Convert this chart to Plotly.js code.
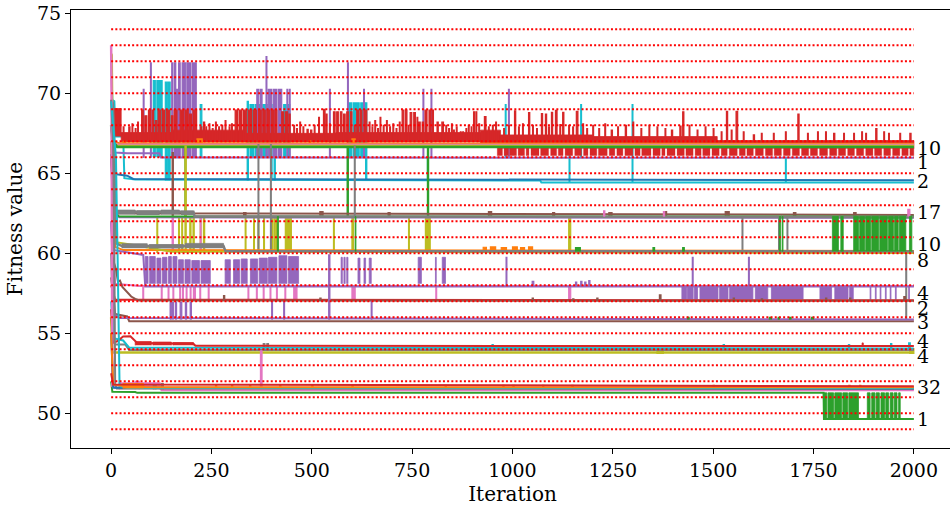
<!DOCTYPE html>
<html>
<head>
<meta charset="utf-8">
<script src="https://cdn.plot.ly/plotly-3.0.1.min.js"></script>
<style>
html,body{margin:0;padding:0;overflow:hidden;background:#fff;width:950px;height:511px;}
#chart{width:960px;height:511px;}
</style>
</head>
<body>
<div id="chart"></div>
<script>
// ---------------- DATA ----------------
const xTicks = [0, 250, 500, 750, 1000, 1250, 1500, 1750, 2000];
const yTicks = [50, 55, 60, 65, 70, 75];
const refLevels = [49,50,51,52,53,54,55,56,57,58,59,60,61,62,63,64,65,66,67,68,69,70,71,72,73,74];

const countLabels = ['10','1','2','17','10','8','4','2','3','4','4','32','1'];
const countLabelY = [66.56, 65.73, 64.52, 62.6, 60.58, 59.58, 57.5, 56.56, 55.72, 54.54, 53.58, 51.62, 49.62];

// runs: [iteration, fitness] points
const cyanHighPath = [[0,72.0],[3,69.6],[8,69.5],[11,67.3],[30,67.3],[33,64.7],[60,64.62],[1069,64.55],[1072,64.42],[2000,64.42]];
const cyanHighRects = [[105,110,66.0,70.8],[114,127,66.0,70.8],[135,140,64.55,70.7],[143,147,64.55,70.7],[222,226,66.0,69.3],
  [339,342,64.55,69.5],[346,356,66.0,69.3],[360,372,66.0,69.3],[378,389,66.0,69.3],[398,401,64.55,69.3],[406,409,64.55,69.3],
  [430,436,66.0,69.3],[440,445,66.0,69.3],[591,600,66.0,69.4],[604,618,66.0,69.4],[622,632,66.0,69.4],[634,637,64.55,69.4],
  [788,790,64.55,66.0],[982,984,66.0,69.3],[1141,1143,64.42,66.3],[1170,1172,66.0,69.3],[1298,1300,64.42,69.3],[1680,1682,64.42,66.0]];

const purple66Path = [[0,67.2],[5,67.1],[9,66.3],[40,66.25],[120,66.25],[124,65.99],[2000,65.97]];
const purple66Base = 65.97;
const purple66Spikes = [[80,82,70.25],[98,100,71.9],[151,154,71.9],[158,161,71.9],[163,165,70.25],[168,172,71.9],[177,186,71.9],
  [189,199,71.9],[203,212,71.9],[363,368,70.25],[372,376,70.25],[386,388,72.3],[391,400,70.25],[404,413,70.25],[417,425,70.25],
  [438,440,70.25],[444,446,70.25],[544,546,70.25],[589,591,71.9],[629,631,70.25],[777,779,70.25],[797,799,70.25],[990,992,70.25]];

const blue64Path = [[0,66.2],[4,65.1],[10,64.95],[40,64.85],[55,64.65],[2000,64.56]];

const redBand = [[2,25,67.3,69.05],[25,150,66.95,67.55],[150,330,66.95,67.7],[330,560,66.95,67.5],[560,920,66.95,67.55],
  [920,970,66.8,67.7],[970,1200,66.55,67.4],[1200,1510,66.55,67.3],[1510,2000,66.55,67.05]];
const redCombLo = 66.1, redCombHi = 66.6;
const redComb = [[962,975],[979,990],[993,1010],[1014,1030],[1034,1041],[1046,1066],[1070,1090],[1095,1110],[1114,1126],
  [1131,1150],[1155,1172],[1177,1188],[1193,1210],[1214,1236],[1241,1255],[1260,1275],[1280,1300],[1305,1318],[1322,1345],
  [1350,1368],[1372,1380],[1385,1405],[1410,1428],[1432,1450],[1455,1470],[1474,1492],[1497,1515],[1520,1535],[1540,1560],
  [1565,1580],[1584,1600],[1605,1625],[1630,1648],[1652,1670],[1675,1692],[1697,1715],[1720,1738],[1742,1760],[1765,1785],
  [1790,1808],[1812,1830],[1835,1852],[1857,1875],[1880,1898],[1902,1920],[1925,1942],[1947,1965],[1970,1986],[1990,2000]];
const redSpikeBase = 67.0;
const redSpikes = [[30,32,67.9],[44,47,67.9],[52,54,68.1],[60,62,67.8],[66,68,68.2],[76,80,68.95],[84,89,68.6],[93,98,68.95],
  [102,106,68.95],[110,114,68.3],[117,124,68.95],[128,133,68.95],[137,146,68.95],[150,154,68.6],[157,164,68.95],
  [172,180,68.95],[184,192,68.95],[195,200,68.7],[204,213,68.95],[222,226,67.9],[230,233,68.2],[236,238,67.9],[244,246,68.1],
  [252,254,67.8],[260,262,68.2],[268,270,67.9],[276,278,68.0],[284,286,68.3],[294,296,67.9],[300,302,68.1],
  [309,316,68.95],[320,326,68.95],[330,338,68.95],[342,350,68.95],[354,362,68.95],
  [367,374,68.95],[378,384,68.95],[388,395,68.95],[399,405,68.95],[408,413,68.95],
  [425,430,68.85],[434,440,68.85],[443,446,68.7],[455,457,68.0],[462,464,67.8],[470,472,68.2],[478,480,67.9],
  [488,491,67.75],[497,500,67.7],[506,508,68.0],
  [517,519,68.5],[529,533,69.0],[535,538,68.7],[544,546,68.1],
  [554,558,68.85],[562,566,68.85],[571,575,68.85],[579,583,68.7],[587,591,68.85],[596,600,68.85],[606,608,68.0],
  [612,616,68.95],[620,625,68.95],[630,637,68.95],[643,645,68.2],[650,652,67.9],[657,659,68.3],[664,666,67.8],[670,672,68.5],
  [678,680,68.0],[686,688,68.3],[694,696,67.9],[702,704,68.1],[710,712,67.8],[718,720,68.2],
  [725,729,68.95],[733,737,68.95],[740,742,68.0],[745,749,68.8],[754,758,68.8],[762,764,68.5],[766,770,68.2],[775,778,68.2],
  [782,787,68.95],[792,797,68.95],[800,803,68.95],[812,815,68.2],[824,828,68.2],[834,836,68.0],[841,843,67.8],[848,850,68.1],
  [853,855,67.7],[860,862,67.9],[870,872,67.6],[876,878,67.6],[884,886,67.8],[890,892,68.0],[897,899,67.9],
  [903,906,68.85],[909,911,68.85],[916,918,68.1],[930,934,68.55],[940,942,67.9],[950,952,68.0],[958,960,68.2],[978,980,67.8],
  [990,992,68.0],[1005,1008,68.9],[1015,1017,67.9],[1025,1027,68.1],[1040,1043,68.8],[1050,1052,68.0],[1060,1062,67.8],
  [1072,1075,68.73],[1082,1085,68.7],[1090,1092,67.9],[1097,1100,68.81],[1107,1111,68.94],[1118,1120,68.04],
  [1125,1128,68.81],[1140,1142,68.0],[1150,1152,67.9],[1159,1163,68.88],[1175,1177,68.1],[1185,1187,67.8],[1200,1202,68.0],
  [1215,1217,67.8],[1230,1232,68.1],[1246,1249,67.7],[1262,1264,67.9],[1281,1284,68.0],[1300,1302,68.2],[1320,1322,67.8],
  [1340,1342,68.0],[1360,1362,67.9],[1380,1382,67.8],[1396,1399,67.7],[1417,1420,67.95],[1424,1427,68.85],[1440,1442,68.0],
  [1460,1462,67.7],[1480,1482,67.9],[1500,1502,67.8],[1520,1522,67.6],[1533,1536,68.88],[1545,1547,67.7],[1557,1561,68.88],
  [1575,1577,67.6],[1600,1603,67.4],[1620,1622,67.5],[1650,1652,67.5],[1680,1682,67.6],[1711,1714,68.7],[1735,1737,67.5],
  [1760,1762,67.6],[1780,1782,67.6],[1800,1803,67.5],[1825,1827,67.5],[1850,1852,67.5],[1870,1872,67.6],[1880,1882,67.5],
  [1905,1908,67.8],[1925,1927,67.6],[1937,1939,67.5],[1965,1967,67.5],[1990,1993,67.5]];

const orange66Path = [[0,68.0],[6,67.0],[20,66.88],[2000,66.85]];
const orange66Bits = [[30,36,66.8,67.0],[214,227,66.8,67.15],[494,497,66.8,67.05],[600,608,66.8,67.15]];
const pink66Path = [[0,67.8],[8,66.8],[2000,66.78]];
const olive66Path = [[0,72.5],[2,72.4],[4,67.0],[12,66.72],[2000,66.72]];
const green66Path = [[0,68.0],[3,67.1],[15,66.65],[2000,66.65]];
const green66Spikes = [[184,186,62.3,66.65],[588,591,62.3,66.65],[788,791,62.3,66.65]];

const brown62Path = [[0,67.0],[6,63.0],[10,62.5],[2000,62.4]];
const brown62Bits = [[152,155,62.35,66.3],[330,336,62.35,62.55],[520,528,62.35,62.6],[690,695,62.35,62.55],[940,948,62.35,62.6],
  [1100,1105,62.35,62.55],[1240,1248,62.35,62.55],[1380,1384,62.35,62.6],[1530,1540,62.35,62.6],[1700,1706,62.35,62.55],[1850,1856,62.35,62.55]];
const purple62Path = [[0,66.0],[10,62.6],[20,62.25],[2000,62.22]];
const green62Path = [[0,66.0],[10,62.5],[20,62.3],[2000,62.3]];
const green62Blocks = [[414,417],[608,610],[1665,1668],[1672,1674],[1797,1812],[1818,1824],[1850,1862],[1865,1877],[1880,1892],
  [1895,1912],[1915,1934],[1937,1949],[1952,1961],[1964,1980],[1989,1995]];
const green60Bits = [[1157,1169,60.12,60.35],[1350,1354,60.12,60.35],[1424,1428,60.12,60.35]];
const gray62Path = [[0,69.6],[4,69.4],[8,66.8],[11,62.6],[205,62.6],[208,62.3],[2000,62.27]];
const gray62Noise = [[11,60,62.42,62.7],[64,120,62.4,62.66],[124,170,62.42,62.7],[174,205,62.4,62.64]];
const graySpikes = [[366,368,60.12,66.8],[397,399,60.12,66.8],[606,608,62.27,66.7],[1572,1574,60.12,62.27],
  [1663,1665,60.12,62.27],[1684,1686,60.12,62.27],[1980,1982,55.85,60.12]];
const pink62Bits = [[1227,1230,62.3,62.65],[1376,1379,62.3,62.6],[1985,1990,62.3,62.75]];

const gray60Path = [[0,68.0],[6,66.8],[14,60.6],[27,60.45],[280,60.45],[285,60.13],[2000,60.12]];
const gray60Noise = [[27,90,60.32,60.6],[95,180,60.3,60.55],[185,280,60.32,60.62]];
const olive60Path = [[0,67.0],[12,60.7],[60,60.5],[150,60.1],[2000,60.02]];
const olive60Base = 60.02;
const olive60Spikes = [[114,116,62.3],[168,170,62.3],[176,178,62.3],[184,187,66.7],[196,199,62.3],[204,207,62.3],[222,224,62.3],
  [230,233,62.3],[334,336,62.3],[355,357,62.3],[366,368,62.3],[380,382,62.3],[400,403,62.3],[406,409,62.3],[412,414,62.3],
  [434,449,62.3],[554,556,62.3],[600,604,62.3],[741,743,62.3],[783,795,62.3],[1140,1145,62.3]];
const pink60Spikes = [[152,155,60.12,62.3],[222,224,60.12,62.3]];
const orange60Path = [[0,66.0],[10,60.4],[30,60.2],[2000,60.15]];
const orange60Bits = [[927,935,60.15,60.38],[945,958,60.15,60.4],[972,985,60.15,60.35],[1000,1012,60.15,60.4],[1020,1030,60.15,60.35],[1040,1050,60.15,60.4]];

const pink58Path = [[0,62.0],[10,58.1],[70,57.95],[2000,57.95]];
const pink58Lo = 57.07, pink58Hi = 57.95;
const pink58Bars = [[79,81],[125,127],[142,144],[154,156],[171,173],[178,180],[187,189],[197,199],[205,210],[221,223],[242,244],
  [341,343],[362,364],[379,381],[396,398],[412,414],[433,435],[455,463],[600,608],[809,811],[1140,1145]];
const purple58Path = [[0,66.0],[8,60.2],[80,59.9],[85,57.93],[2000,57.93]];
const purple58Floating = [[85,92,58.1,59.8],[96,110,58.1,59.8],[114,124,58.1,59.7],[128,139,58.1,59.75],[143,150,58.1,59.8],
  [154,164,58.1,59.8],[168,180,58.1,59.6],[184,197,58.1,59.6],[201,220,58.1,59.55],[224,247,58.1,59.55],[284,297,58.1,59.6],
  [305,320,58.1,59.6],[324,339,58.1,59.65],[347,365,58.1,59.65],[369,389,58.1,59.7],[392,413,58.1,59.75],[418,438,58.1,59.85],
  [442,467,58.1,59.8],[573,576,58.1,59.75],[580,583,58.1,59.75],[587,590,58.1,59.75],[615,620,58.1,59.7],[630,634,58.1,59.7],
  [643,648,58.1,59.7],[765,773,58.1,59.75],[808,810,58.1,59.75],[825,833,58.1,59.75]];
const purple58Lo = 57.12, purple58Hi = 57.93;
const purple58Down = [[1422,1434],[1436,1450],[1453,1461],[1467,1512],[1516,1537],[1541,1599],[1605,1636],[1645,1724],
  [1766,1795],[1803,1836],[1840,1849],[1891,1893],[1904,1906],[1916,1918],[1929,1931],[1941,1943],[1954,1956],[1987,1989]];
const purple58Up = [[984,986,57.93,59.75],[1448,1450,57.93,59.75],[1588,1590,57.93,59.75],[1049,1053,57.93,58.25],
  [1157,1160,57.93,58.2],[1170,1173,57.93,58.25],[1180,1183,57.93,58.2],[1190,1193,57.93,58.3]];

const red57Path = [[0,58.0],[10,57.1],[2000,57.06]];
const brown57Path = [[0,60.0],[12,59.0],[17,58.25],[22,58.3],[28,57.9],[35,57.7],[42,57.5],[50,57.3],[60,57.15],[70,57.05],[2000,57.03]];
const brown57Bits = [[280,283,57.03,57.35],[520,523,57.03,57.2],[1049,1052,57.03,57.2],[1150,1153,57.03,57.15],[1210,1213,57.03,57.2],
  [1366,1370,57.03,57.4],[1550,1553,57.03,57.2],[1620,1623,57.03,57.15],[1780,1783,57.03,57.2],[1840,1843,57.03,57.2],[1975,1979,57.03,57.3]];

const brown56Path = [[0,58.5],[10,56.2],[40,56.05],[45,55.76],[2000,55.76]];
const purple56Path = [[0,62.0],[8,56.2],[20,55.95],[2000,55.87]];
const purple56Spikes = [[147,150,55.87,56.93],[153,155,55.87,56.93],[160,163,55.87,56.93],[172,176,55.87,56.93],[185,188,55.87,56.93],
  [197,200,55.87,56.93],[400,402,55.87,57.0],[430,432,55.87,57.0],[542,545,55.87,59.9],[648,650,55.87,57.0]];
const green56Bits = [[1436,1440,55.87,56.0],[1640,1645,55.87,56.0],[1662,1665,55.87,56.0],[1690,1694,55.87,56.0],[1745,1750,55.87,56.0]];

const olive54Path = [[0,56.0],[3,53.8],[2000,53.8]];
const olive54Bits = [[1360,1376,53.7,54.05],[1990,2000,53.7,54.05]];
const gray54Path = [[0,60.0],[6,54.5],[10,54.3],[35,54.3],[45,53.95],[2000,53.95]];
const gray54Bits = [[379,383,53.95,54.35],[388,392,53.95,54.35]];
const cyan54Path = [[0,57.0],[6,54.7],[30,54.55],[45,54.1],[2000,54.05]];
const cyan54Bits = [[949,952,54.05,54.3],[1525,1528,54.05,54.3],[1837,1840,54.05,54.3],[1942,1945,54.05,54.35],[1987,1991,54.05,54.4]];
const red54Path = [[0,56.5],[4,54.4],[15,54.5],[22,54.65],[30,54.8],[48,54.82],[56,54.6],[65,54.4],[205,54.35],[210,54.22],[2000,54.2]];
const red54Noise = [[60,100,54.25,54.48],[104,150,54.25,54.45],[154,205,54.25,54.42],[1871,1874,54.2,54.4]];

const green51Path = [[0,52.0],[3,51.35],[60,51.33],[65,51.28],[1775,51.28],[1776,49.65],[2000,49.65]];
const green51Lo = 49.65, green51Hi = 51.28;
const green51Blocks = [[1775,1783],[1786,1800],[1803,1820],[1823,1835],[1838,1862],[1884,1891],[1895,1903],[1906,1914],
  [1918,1927],[1930,1937],[1941,1948],[1951,1958],[1962,1966]];
const pink51Path = [[0,73.0],[1,70.0],[3,51.7],[10,51.6],[122,51.6],[126,51.45],[2000,51.45]];
const pink51Noise = [[20,122,51.5,51.9],[60,70,51.5,52.0],[372,376,51.45,53.9]];
const gray51Path = [[0,69.6],[5,66.8],[8,60.0],[10,51.8],[14,51.55],[2000,51.52]];
const gray51Bits = [[105,112,51.5,51.8],[125,130,51.5,51.85]];
const blue51Path = [[0,55.0],[5,51.6],[2000,51.55]];
const cyan51Path = [[0,69.5],[12,66.0],[16,60.0],[21,51.7],[40,51.58],[2000,51.58]];
const orange51Path = [[0,55.0],[5,51.8],[30,51.7],[80,51.7],[85,51.62],[2000,51.62]];
const orange51Noise = [[30,80,51.55,51.85]];
const orange51Lo = 51.6, orange51Hi = 51.75;
const orange51Bits = [[260,263],[300,303],[345,348],[420,423],[500,503],[600,603],[832,835],[976,979],[1001,1004],[1075,1078],
  [1148,1151],[1500,1503],[1838,1841],[1865,1868]];
const red51Path = [[0,52.5],[5,51.8],[2000,51.69]];

// ---------------- BUILDERS ----------------
const C = {blue:'#1f77b4', orange:'#ff7f0e', green:'#2ca02c', red:'#d62728', purple:'#9467bd',
  brown:'#8c564b', pink:'#e377c2', gray:'#7f7f7f', olive:'#bcbd22', cyan:'#17becf'};
const LW = 2;

function path(pts, color, width) {
  return {type:'scatter', mode:'lines', x: pts.map(p => p[0]), y: pts.map(p => p[1]),
    line:{color: color, width: width || LW}, hoverinfo:'skip'};
}
function rects(list, color, edge) {
  const x = [], y = [];
  list.forEach(r => { x.push(r[0], r[0], r[1], r[1], null); y.push(r[2], r[3], r[3], r[2], null); });
  return {type:'scatter', mode:'lines', x: x, y: y, fill:'toself', fillcolor: color,
    line:{color: color, width: edge === undefined ? 1.2 : edge}, hoverinfo:'skip', connectgaps:false};
}
const spikes = (base, list) => list.map(s => [s[0], s[1], base, s[2]]);
const bars = (lo, hi, list) => list.map(s => [s[0], s[1], lo, hi]);

const traces = [
  path(cyanHighPath, C.cyan), rects(cyanHighRects, C.cyan),
  path(purple66Path, C.purple), rects(spikes(purple66Base, purple66Spikes), C.purple),
  path(blue64Path, C.blue),
  rects(redBand, C.red, 0.8), rects(bars(redCombLo, redCombHi, redComb), C.red, 0.3),
  rects(spikes(redSpikeBase, redSpikes), C.red),
  path(orange66Path, C.orange), rects(orange66Bits, C.orange),
  path(pink66Path, C.pink), path(olive66Path, C.olive),
  path(green66Path, C.green, 2.5), rects(green66Spikes, C.green),

  rects(spikes(olive60Base, olive60Spikes), C.olive),
  rects(pink60Spikes, C.pink),
  path(brown62Path, C.brown), rects(brown62Bits, C.brown),
  path(purple62Path, C.purple),
  path(green62Path, C.green),
  path(gray62Path, C.gray, 2.5), rects(gray62Noise, C.gray, 0.8), rects(graySpikes, C.gray), rects(pink62Bits, C.pink),
  path(orange60Path, C.orange), rects(orange60Bits, C.orange),
  path(olive60Path, C.olive),
  path(gray60Path, C.gray, 2.5), rects(gray60Noise, C.gray, 0.8),
  rects(bars(60.12, 62.3, green62Blocks), C.green, 0.8), rects(green60Bits, C.green),

  path(pink58Path, C.pink), rects(bars(pink58Lo, pink58Hi, pink58Bars), C.pink),
  path(purple58Path, C.purple), rects(purple58Floating, C.purple, 0.8),
  rects(bars(purple58Lo, purple58Hi, purple58Down), C.purple, 0.8), rects(purple58Up, C.purple),
  path(red57Path, C.red), path(brown57Path, C.brown), rects(brown57Bits, C.brown),
  path(brown56Path, C.brown), path(purple56Path, C.purple), rects(purple56Spikes, C.purple), rects(green56Bits, C.green),

  path(olive54Path, C.olive, 2.5), rects(olive54Bits, C.olive),
  path(gray54Path, C.gray), rects(gray54Bits, C.gray),
  path(cyan54Path, C.cyan), rects(cyan54Bits, C.cyan),
  path(red54Path, C.red), rects(red54Noise, C.red, 0.8),

  path(green51Path, C.green), rects(bars(green51Lo, green51Hi, green51Blocks), C.green, 0.8),
  path(pink51Path, C.pink, 2.5), rects(pink51Noise, C.pink),
  path(gray51Path, C.gray), rects(gray51Bits, C.gray),
  path(blue51Path, C.blue), path(cyan51Path, C.cyan),
  path(orange51Path, C.orange), rects(orange51Noise, C.orange), rects(bars(orange51Lo, orange51Hi, orange51Bits), C.orange),
  path(red51Path, C.red)
];

// red dotted reference levels on top
const refX = [], refY = [];
refLevels.forEach(v => { refX.push(0, 2000, null); refY.push(v, v, null); });
traces.push({type:'scatter', mode:'lines', x: refX, y: refY, line:{color:'#ff0000', width:2, dash:'2px,2.2px'}, hoverinfo:'skip'});

const FONT = 'DejaVu Serif, serif';
const annotations = countLabels.map((t, i) => ({
  x: 2003, y: countLabelY[i], xref:'x', yref:'y', text: t, showarrow:false, xanchor:'left', yanchor:'middle',
  font:{family: FONT, size: 19, color:'#000'}
}));

const axisCommon = {
  ticks:'outside', ticklen:5, tickwidth:1, tickcolor:'#000', showline:true, linecolor:'#000', linewidth:1,
  mirror:true, showgrid:false, zeroline:false, tickfont:{family: FONT, size:19, color:'#000'}
};
const layout = {
  width: 960, height: 511, margin:{l:71, r:6, t:10, b:63},
  paper_bgcolor:'#fff', plot_bgcolor:'#fff', showlegend:false,
  xaxis: Object.assign({}, axisCommon, {range:[-100, 2100], tickvals: xTicks, ticktext: xTicks.map(String),
    title:{text:'Iteration', font:{family: FONT, size:20, color:'#000'}, standoff: 7}}),
  yaxis: Object.assign({}, axisCommon, {range:[47.83, 75.21], tickvals: yTicks, ticktext: yTicks.map(String),
    title:{text:'Fitness value', font:{family: FONT, size:20, color:'#000'}, standoff: 9}}),
  annotations: annotations
};
Plotly.newPlot('chart', traces, layout, {staticPlot:true, displayModeBar:false});
</script>
</body>
</html>
